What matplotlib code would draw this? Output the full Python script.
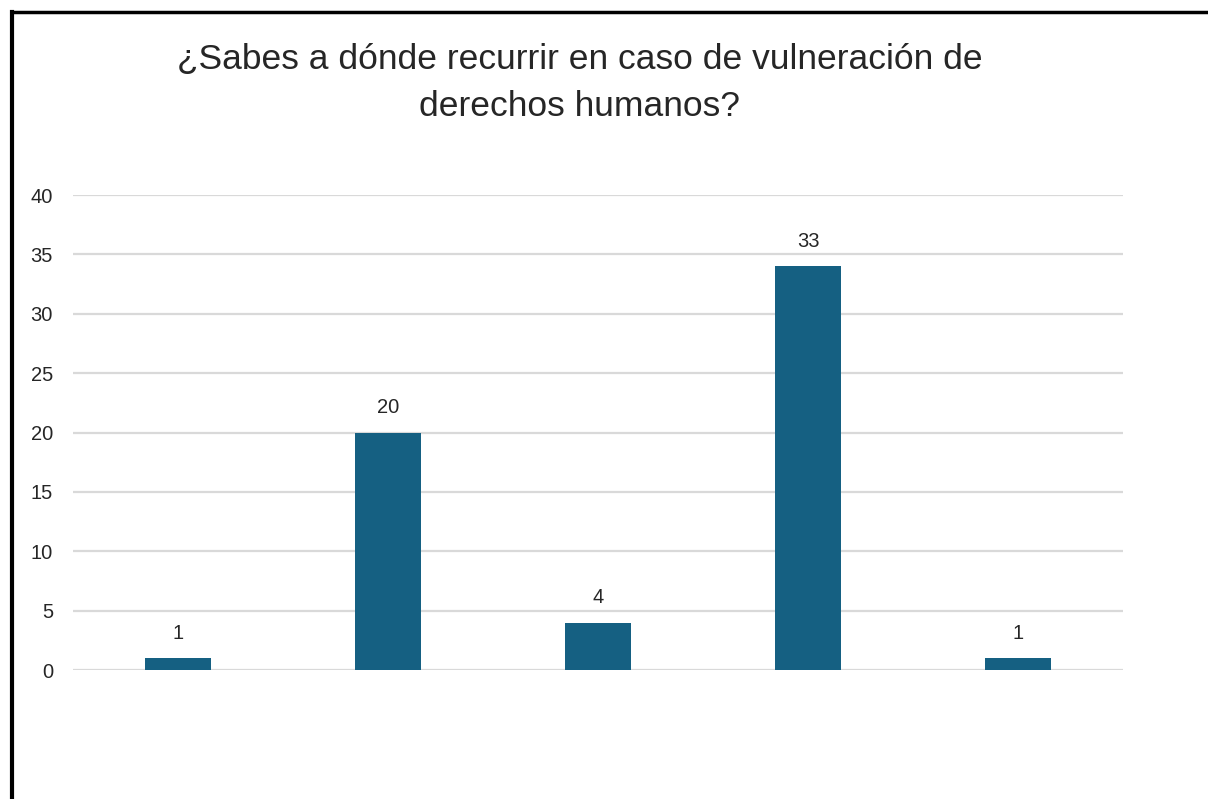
import matplotlib.pyplot as plt
from matplotlib.lines import Line2D

# data (bar heights and the labels printed above them)
categories = ['', '', '', '', '']
values = [1, 20, 4, 34, 1]
value_labels = ['1', '20', '4', '33', '1']
yticks = [0, 5, 10, 15, 20, 25, 30, 35, 40]

title = '¿Sabes a dónde recurrir en caso de vulneración de\nderechos humanos?'

plt.rcParams['font.family'] = ['Liberation Sans', 'DejaVu Sans']

fig = plt.figure(figsize=(12.08, 7.99), dpi=100)
ax = fig.add_axes([0.0604, 0.1614, 0.8692, 0.5945])

x = list(range(len(values)))
ax.bar(x, values, width=0.314, color='#156082', zorder=3)
for xi, v, lab in zip(x, values, value_labels):
    ax.annotate(lab, (xi, v), xytext=(0, 11), textcoords='offset points',
                ha='center', va='bottom', fontsize=14.5, color='#262626')

ax.set_xlim(-0.5, len(values) - 0.5)
ax.set_ylim(0, 40)
ax.set_yticks(yticks)
ax.set_xticks(x)
ax.set_xticklabels(categories)
ax.tick_params(axis='both', length=0, labelsize=14.5, labelcolor='#262626')
ax.tick_params(axis='y', pad=14.4)
ax.grid(axis='y', color='#d9d9d9', linewidth=1.6, zorder=0)
for s in ax.spines.values():
    s.set_visible(False)

fig.text(0.48, 0.9465, title, ha='center', va='top', fontsize=25.5,
         color='#262626', linespacing=1.54)

# cut-off frame of the original screenshot
fig.add_artist(Line2D([12 / 1208, 12 / 1208], [0, 1 - 12 / 799],
                      transform=fig.transFigure, color='black', lw=3))
fig.add_artist(Line2D([12 / 1208, 1], [1 - 12 / 799, 1 - 12 / 799],
                      transform=fig.transFigure, color='black', lw=2.5))

fig.savefig('out.png', dpi=100)
